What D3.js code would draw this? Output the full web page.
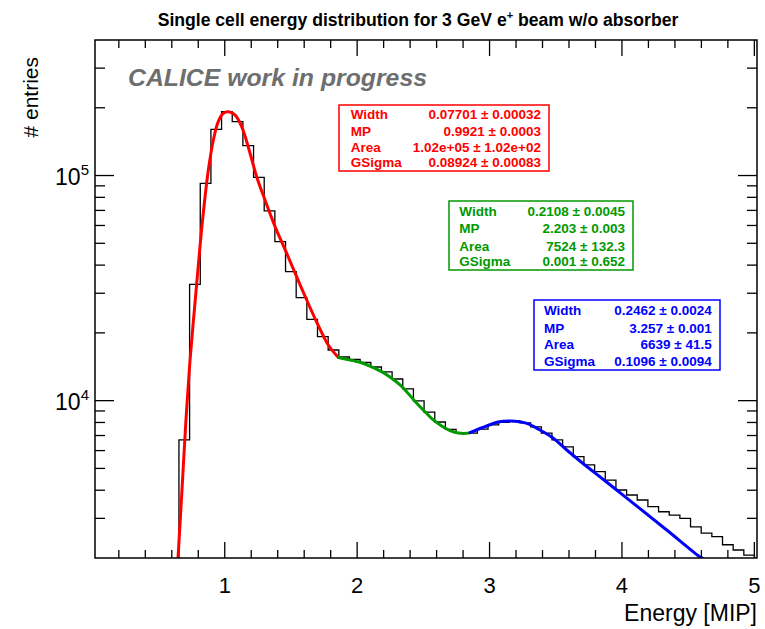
<!DOCTYPE html>
<html><head><meta charset="utf-8">
<script src="https://cdn.jsdelivr.net/npm/d3@7"></script>
<style>
body{margin:0;background:#fff}
svg{display:block}
text{font-family:"Liberation Sans",Arial,Helvetica,sans-serif}
</style>
</head><body>
<svg id="c" width="765" height="629"></svg>
<script>
// ---------- data ----------
const titleText = "Single cell energy distribution for 3 GeV e";
const xLabel = "Energy [MIP]";
const yLabel = "# entries";
const xMajorTicks = [1, 2, 3, 4, 5];
const xMinorTicks = [0.2, 0.4, 0.6, 0.8, 1.2, 1.4, 1.6, 1.8, 2.2, 2.4, 2.6, 2.8, 3.2, 3.4, 3.6, 3.8, 4.2, 4.4, 4.6, 4.8];
const yMajorTicks = [1e4, 1e5];
const yMajorExp = ["4", "5"];
const yMinorTicks = [3e3, 4e3, 5e3, 6e3, 7e3, 8e3, 9e3, 2e4, 3e4, 4e4, 5e4, 6e4, 7e4, 8e4, 9e4, 2e5, 3e5];

const binStart = 0.01, binWidth = 0.0805, firstBin = 8;
const binCounts = [6690, 32880, 92370, 160500, 192100, 173500, 135700, 98200, 69600, 50830,
  37390, 28670, 22980, 19240, 16790, 15630, 15230, 14770, 14110, 13410,
  12480, 11270, 9970, 8900, 8040, 7450, 7180, 7180, 7480, 7800,
  8000, 8120, 7960, 7640, 7180, 6690, 6230, 5640, 5180, 4840,
  4440, 4010, 3810, 3620, 3380, 3210, 3100, 3000, 2750, 2580,
  2490, 2290, 2170, 2060];

const redX = [0.647, 0.677, 0.707, 0.738, 0.775, 0.813, 0.843, 0.876, 0.914, 0.951, 0.989, 1.027, 1.077, 1.128, 1.191, 1.241, 1.304, 1.380, 1.468, 1.543, 1.619, 1.694, 1.782, 1.858];
const redY = [2000, 4010, 8210, 15160, 27070, 48300, 72720, 105800, 143900, 173500, 189000, 192100, 185800, 164800, 125600, 98810, 77870, 59270, 45130, 35530, 28000, 22360, 17670, 15550];
const greenX = [1.858, 1.946, 2.021, 2.096, 2.185, 2.261, 2.324, 2.374, 2.450, 2.512, 2.575, 2.639, 2.701, 2.764, 2.827, 2.852];
const greenY = [15550, 15160, 14810, 14250, 13450, 12570, 11740, 10960, 9734, 8933, 8207, 7717, 7355, 7184, 7162, 7210];
const blueX = [2.852, 2.978, 3.064, 3.154, 3.281, 3.381, 3.479, 3.583, 3.683, 3.784, 3.960, 4.136, 4.338, 4.587, 4.605];
const blueY = [7210, 7717, 8036, 8118, 7930, 7406, 6826, 6037, 5394, 4835, 4010, 3315, 2664, 2027, 2000];

const fitNames = ["Width", "MP", "Area", "GSigma"];
const redVals = ["0.07701 \u00b1 0.00032", "0.9921 \u00b1 0.0003", "1.02e+05 \u00b1 1.02e+02", "0.08924 \u00b1 0.00083"];
const greenVals = ["0.2108 \u00b1 0.0045", "2.203 \u00b1 0.003", "7524 \u00b1 132.3", "0.001 \u00b1 0.652"];
const blueVals = ["0.2462 \u00b1 0.0024", "3.257 \u00b1 0.001", "6639 \u00b1 41.5", "0.1096 \u00b1 0.0094"];

// ---------- layout ----------
const L = 95, R = 757, T = 40, B = 558;
const svg = d3.select("#c");
const x = d3.scaleLinear().domain([0.02, 5.02]).range([L, R]);
const y = d3.scaleLog().domain([2000, 4e5]).range([B, T]);

svg.append("defs").append("clipPath").attr("id", "clip")
  .append("rect").attr("x", L).attr("y", T).attr("width", R - L).attr("height", B - T);

// histogram
const edges = binCounts.map((d, i) => binStart + (firstBin + i) * binWidth);
let p = d3.path();
p.moveTo(x(edges[0]), B);
binCounts.forEach((c, i) => {
  const x0 = x(edges[i]), x1 = x(edges[i] + binWidth);
  p.lineTo(x0, y(c));
  p.lineTo(x1, y(c));
});
p.lineTo(x(edges[edges.length - 1] + binWidth), B);
svg.append("path").attr("d", p.toString()).attr("fill", "none")
  .attr("stroke", "#000").attr("stroke-width", 1.3).attr("clip-path", "url(#clip)");

// fit curves
const line = d3.line().x(d => x(d[0])).y(d => y(d[1])).curve(d3.curveCatmullRom.alpha(0.5));
function drawCurve(xs, ys, color) {
  svg.append("path").attr("d", line(xs.map((v, i) => [v, ys[i]])))
    .attr("fill", "none").attr("stroke", color).attr("stroke-width", 3)
    .attr("stroke-linecap", "round").attr("clip-path", "url(#clip)");
}
drawCurve(redX, redY, "#ff0000");
drawCurve(greenX, greenY, "#009900");
drawCurve(blueX, blueY, "#0000ff");

// frame
svg.append("rect").attr("x", L).attr("y", T).attr("width", R - L).attr("height", B - T)
  .attr("fill", "none").attr("stroke", "#000").attr("stroke-width", 1.5);

// ticks
const tk = svg.append("g").attr("stroke", "#000").attr("stroke-width", 1.3);
xMajorTicks.forEach(v => {
  tk.append("line").attr("x1", x(v)).attr("x2", x(v)).attr("y1", B).attr("y2", B - 16);
  tk.append("line").attr("x1", x(v)).attr("x2", x(v)).attr("y1", T).attr("y2", T + 16);
});
xMinorTicks.forEach(v => {
  tk.append("line").attr("x1", x(v)).attr("x2", x(v)).attr("y1", B).attr("y2", B - 8);
  tk.append("line").attr("x1", x(v)).attr("x2", x(v)).attr("y1", T).attr("y2", T + 8);
});
yMajorTicks.forEach(v => {
  tk.append("line").attr("x1", L).attr("x2", L + 19).attr("y1", y(v)).attr("y2", y(v));
  tk.append("line").attr("x1", R).attr("x2", R - 19).attr("y1", y(v)).attr("y2", y(v));
});
yMinorTicks.forEach(v => {
  tk.append("line").attr("x1", L).attr("x2", L + 10).attr("y1", y(v)).attr("y2", y(v));
  tk.append("line").attr("x1", R).attr("x2", R - 10).attr("y1", y(v)).attr("y2", y(v));
});

// tick labels
xMajorTicks.forEach(v => {
  svg.append("text").attr("x", x(v)).attr("y", 593).attr("text-anchor", "middle")
    .attr("font-size", 22).text(v);
});
yMajorTicks.forEach((v, i) => {
  const t = svg.append("text").attr("x", 89).attr("y", y(v) + 9).attr("text-anchor", "end").attr("font-size", 23);
  t.append("tspan").text("10");
  t.append("tspan").attr("dy", -10).attr("font-size", 15).text(yMajorExp[i]);
});

// axis titles
svg.append("text").attr("x", R).attr("y", 621).attr("text-anchor", "end")
  .attr("font-size", 23).text(xLabel);
svg.append("text").attr("transform", "translate(38,57) rotate(-90)")
  .attr("text-anchor", "end").attr("font-size", 21).text(yLabel);

// title
const tt = svg.append("text").attr("x", 418).attr("y", 26).attr("text-anchor", "middle")
  .attr("font-size", 17.6).attr("font-weight", "bold");
tt.append("tspan").text(titleText);
tt.append("tspan").attr("dy", -7).attr("font-size", 11).text("+");
tt.append("tspan").attr("dy", 7).text(" beam w/o absorber");

// CALICE label
svg.append("text").attr("x", 128).attr("y", 86).attr("font-size", 24.8)
  .attr("font-weight", "bold").attr("font-style", "italic").attr("fill", "#6e6e6e")
  .text("CALICE work in progress");

// stat boxes
function statBox(box, rows, labelX, valueX, vals, color) {
  svg.append("rect").attr("x", box[0]).attr("y", box[1]).attr("width", box[2] - box[0])
    .attr("height", box[3] - box[1]).attr("fill", "#fff").attr("stroke", color).attr("stroke-width", 1.5);
  fitNames.forEach((n, i) => {
    svg.append("text").attr("x", labelX).attr("y", rows[i] + 4.8).attr("font-size", 13.5)
      .attr("font-weight", "bold").attr("fill", color).text(n);
    svg.append("text").attr("x", valueX).attr("y", rows[i] + 4.8).attr("font-size", 13.5)
      .attr("font-weight", "bold").attr("fill", color).attr("text-anchor", "end").text(vals[i]);
  });
}
statBox([339, 105, 549, 171], [114, 131, 146.7, 162.3], 350.7, 541, redVals, "#ff0000");
statBox([449, 201, 633, 270], [211, 228.3, 245.7, 260.7], 459.3, 625, greenVals, "#009900");
statBox([534, 300, 720, 370], [310, 327.7, 344, 360.7], 544, 711.7, blueVals, "#0000ff");
</script>
</body></html>
